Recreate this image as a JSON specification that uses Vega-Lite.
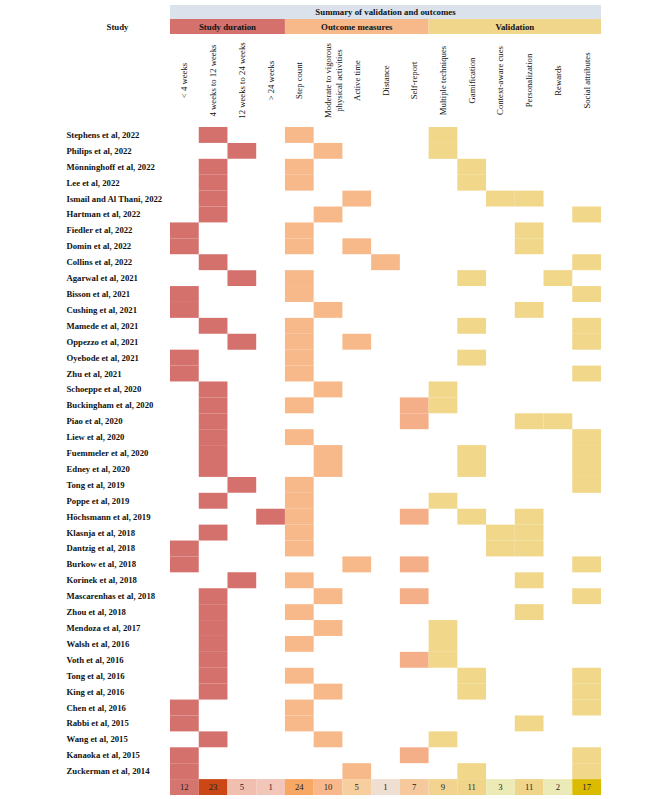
{
  "$schema": "https://vega.github.io/schema/vega-lite/v6.json",
  "padding": {"left": 66, "top": 5, "right": 5, "bottom": 0},
  "spacing": 0,
  "bounds": "flush",
  "resolve": {"scale": {"color": "independent", "fill": "independent", "x": "independent", "y": "independent"}},
  "config": {"view": {"stroke": null}},
  "datasets": {
    "summary": [{"t": "Summary of validation and outcomes", "s": 0, "e": 15}],
    "groups": [
      {"g": "Study duration", "s": 0, "e": 4, "h": "Study"},
      {"g": "Outcome measures", "s": 4, "e": 9, "h": "Study"},
      {"g": "Validation", "s": 9, "e": 15, "h": "Study"}
    ],
    "cols": [
      {"col": "< 4 weeks", "label": "< 4 weeks"},
      {"col": "4 weeks to 12 weeks", "label": "4 weeks to 12 weeks"},
      {"col": "12 weeks to 24 weeks", "label": "12 weeks to 24 weeks"},
      {"col": "> 24 weeks", "label": "> 24 weeks"},
      {"col": "Step count", "label": "Step count"},
      {"col": "Moderate to vigorous physical activities", "label": "Moderate to vigorous\nphysical activities"},
      {"col": "Active time", "label": "Active time"},
      {"col": "Distance", "label": "Distance"},
      {"col": "Self-report", "label": "Self-report"},
      {"col": "Multiple techniques", "label": "Multiple techniques"},
      {"col": "Gamification", "label": "Gamification"},
      {"col": "Context-aware cues", "label": "Context-aware cues"},
      {"col": "Personalization", "label": "Personalization"},
      {"col": "Rewards", "label": "Rewards"},
      {"col": "Social attributes", "label": "Social attributes"}
    ],
    "totals": [
      {"col": "< 4 weeks", "n": 12},
      {"col": "4 weeks to 12 weeks", "n": 23},
      {"col": "12 weeks to 24 weeks", "n": 5},
      {"col": "> 24 weeks", "n": 1},
      {"col": "Step count", "n": 24},
      {"col": "Moderate to vigorous physical activities", "n": 10},
      {"col": "Active time", "n": 5},
      {"col": "Distance", "n": 1},
      {"col": "Self-report", "n": 7},
      {"col": "Multiple techniques", "n": 9},
      {"col": "Gamification", "n": 11},
      {"col": "Context-aware cues", "n": 3},
      {"col": "Personalization", "n": 11},
      {"col": "Rewards", "n": 2},
      {"col": "Social attributes", "n": 17}
    ],
    "cells": [
      {"study": "Stephens et al, 2022", "col": "4 weeks to 12 weeks"},
      {"study": "Stephens et al, 2022", "col": "Step count"},
      {"study": "Stephens et al, 2022", "col": "Multiple techniques"},
      {"study": "Philips et al, 2022", "col": "12 weeks to 24 weeks"},
      {"study": "Philips et al, 2022", "col": "Moderate to vigorous physical activities"},
      {"study": "Philips et al, 2022", "col": "Multiple techniques"},
      {"study": "Mönninghoff et al, 2022", "col": "4 weeks to 12 weeks"},
      {"study": "Mönninghoff et al, 2022", "col": "Step count"},
      {"study": "Mönninghoff et al, 2022", "col": "Gamification"},
      {"study": "Lee et al, 2022", "col": "4 weeks to 12 weeks"},
      {"study": "Lee et al, 2022", "col": "Step count"},
      {"study": "Lee et al, 2022", "col": "Gamification"},
      {"study": "Ismail and Al Thani, 2022", "col": "4 weeks to 12 weeks"},
      {"study": "Ismail and Al Thani, 2022", "col": "Active time"},
      {"study": "Ismail and Al Thani, 2022", "col": "Context-aware cues"},
      {"study": "Ismail and Al Thani, 2022", "col": "Personalization"},
      {"study": "Hartman et al, 2022", "col": "4 weeks to 12 weeks"},
      {"study": "Hartman et al, 2022", "col": "Moderate to vigorous physical activities"},
      {"study": "Hartman et al, 2022", "col": "Social attributes"},
      {"study": "Fiedler et al, 2022", "col": "< 4 weeks"},
      {"study": "Fiedler et al, 2022", "col": "Step count"},
      {"study": "Fiedler et al, 2022", "col": "Personalization"},
      {"study": "Domin et al, 2022", "col": "< 4 weeks"},
      {"study": "Domin et al, 2022", "col": "Step count"},
      {"study": "Domin et al, 2022", "col": "Active time"},
      {"study": "Domin et al, 2022", "col": "Personalization"},
      {"study": "Collins et al, 2022", "col": "4 weeks to 12 weeks"},
      {"study": "Collins et al, 2022", "col": "Distance"},
      {"study": "Collins et al, 2022", "col": "Social attributes"},
      {"study": "Agarwal et al, 2021", "col": "12 weeks to 24 weeks"},
      {"study": "Agarwal et al, 2021", "col": "Step count"},
      {"study": "Agarwal et al, 2021", "col": "Gamification"},
      {"study": "Agarwal et al, 2021", "col": "Rewards"},
      {"study": "Bisson et al, 2021", "col": "< 4 weeks"},
      {"study": "Bisson et al, 2021", "col": "Step count"},
      {"study": "Bisson et al, 2021", "col": "Social attributes"},
      {"study": "Cushing et al, 2021", "col": "< 4 weeks"},
      {"study": "Cushing et al, 2021", "col": "Moderate to vigorous physical activities"},
      {"study": "Cushing et al, 2021", "col": "Personalization"},
      {"study": "Mamede et al, 2021", "col": "4 weeks to 12 weeks"},
      {"study": "Mamede et al, 2021", "col": "Step count"},
      {"study": "Mamede et al, 2021", "col": "Gamification"},
      {"study": "Mamede et al, 2021", "col": "Social attributes"},
      {"study": "Oppezzo et al, 2021", "col": "12 weeks to 24 weeks"},
      {"study": "Oppezzo et al, 2021", "col": "Step count"},
      {"study": "Oppezzo et al, 2021", "col": "Active time"},
      {"study": "Oppezzo et al, 2021", "col": "Social attributes"},
      {"study": "Oyebode et al, 2021", "col": "< 4 weeks"},
      {"study": "Oyebode et al, 2021", "col": "Step count"},
      {"study": "Oyebode et al, 2021", "col": "Gamification"},
      {"study": "Zhu et al, 2021", "col": "< 4 weeks"},
      {"study": "Zhu et al, 2021", "col": "Step count"},
      {"study": "Zhu et al, 2021", "col": "Social attributes"},
      {"study": "Schoeppe et al, 2020", "col": "4 weeks to 12 weeks"},
      {"study": "Schoeppe et al, 2020", "col": "Moderate to vigorous physical activities"},
      {"study": "Schoeppe et al, 2020", "col": "Multiple techniques"},
      {"study": "Buckingham et al, 2020", "col": "4 weeks to 12 weeks"},
      {"study": "Buckingham et al, 2020", "col": "Step count"},
      {"study": "Buckingham et al, 2020", "col": "Self-report"},
      {"study": "Buckingham et al, 2020", "col": "Multiple techniques"},
      {"study": "Piao et al, 2020", "col": "4 weeks to 12 weeks"},
      {"study": "Piao et al, 2020", "col": "Self-report"},
      {"study": "Piao et al, 2020", "col": "Personalization"},
      {"study": "Piao et al, 2020", "col": "Rewards"},
      {"study": "Liew et al, 2020", "col": "4 weeks to 12 weeks"},
      {"study": "Liew et al, 2020", "col": "Step count"},
      {"study": "Liew et al, 2020", "col": "Social attributes"},
      {"study": "Fuemmeler et al, 2020", "col": "4 weeks to 12 weeks"},
      {"study": "Fuemmeler et al, 2020", "col": "Moderate to vigorous physical activities"},
      {"study": "Fuemmeler et al, 2020", "col": "Gamification"},
      {"study": "Fuemmeler et al, 2020", "col": "Social attributes"},
      {"study": "Edney et al, 2020", "col": "4 weeks to 12 weeks"},
      {"study": "Edney et al, 2020", "col": "Moderate to vigorous physical activities"},
      {"study": "Edney et al, 2020", "col": "Gamification"},
      {"study": "Edney et al, 2020", "col": "Social attributes"},
      {"study": "Tong et al, 2019", "col": "12 weeks to 24 weeks"},
      {"study": "Tong et al, 2019", "col": "Step count"},
      {"study": "Tong et al, 2019", "col": "Social attributes"},
      {"study": "Poppe et al, 2019", "col": "4 weeks to 12 weeks"},
      {"study": "Poppe et al, 2019", "col": "Step count"},
      {"study": "Poppe et al, 2019", "col": "Multiple techniques"},
      {"study": "Höchsmann et al, 2019", "col": "> 24 weeks"},
      {"study": "Höchsmann et al, 2019", "col": "Step count"},
      {"study": "Höchsmann et al, 2019", "col": "Self-report"},
      {"study": "Höchsmann et al, 2019", "col": "Gamification"},
      {"study": "Höchsmann et al, 2019", "col": "Personalization"},
      {"study": "Klasnja et al, 2018", "col": "4 weeks to 12 weeks"},
      {"study": "Klasnja et al, 2018", "col": "Step count"},
      {"study": "Klasnja et al, 2018", "col": "Context-aware cues"},
      {"study": "Klasnja et al, 2018", "col": "Personalization"},
      {"study": "Dantzig et al, 2018", "col": "< 4 weeks"},
      {"study": "Dantzig et al, 2018", "col": "Step count"},
      {"study": "Dantzig et al, 2018", "col": "Context-aware cues"},
      {"study": "Dantzig et al, 2018", "col": "Personalization"},
      {"study": "Burkow et al, 2018", "col": "< 4 weeks"},
      {"study": "Burkow et al, 2018", "col": "Active time"},
      {"study": "Burkow et al, 2018", "col": "Self-report"},
      {"study": "Burkow et al, 2018", "col": "Social attributes"},
      {"study": "Korinek et al, 2018", "col": "12 weeks to 24 weeks"},
      {"study": "Korinek et al, 2018", "col": "Step count"},
      {"study": "Korinek et al, 2018", "col": "Personalization"},
      {"study": "Mascarenhas et al, 2018", "col": "4 weeks to 12 weeks"},
      {"study": "Mascarenhas et al, 2018", "col": "Moderate to vigorous physical activities"},
      {"study": "Mascarenhas et al, 2018", "col": "Self-report"},
      {"study": "Mascarenhas et al, 2018", "col": "Social attributes"},
      {"study": "Zhou et al, 2018", "col": "4 weeks to 12 weeks"},
      {"study": "Zhou et al, 2018", "col": "Step count"},
      {"study": "Zhou et al, 2018", "col": "Personalization"},
      {"study": "Mendoza et al, 2017", "col": "4 weeks to 12 weeks"},
      {"study": "Mendoza et al, 2017", "col": "Moderate to vigorous physical activities"},
      {"study": "Mendoza et al, 2017", "col": "Multiple techniques"},
      {"study": "Walsh et al, 2016", "col": "4 weeks to 12 weeks"},
      {"study": "Walsh et al, 2016", "col": "Step count"},
      {"study": "Walsh et al, 2016", "col": "Multiple techniques"},
      {"study": "Voth et al, 2016", "col": "4 weeks to 12 weeks"},
      {"study": "Voth et al, 2016", "col": "Self-report"},
      {"study": "Voth et al, 2016", "col": "Multiple techniques"},
      {"study": "Tong et al, 2016", "col": "4 weeks to 12 weeks"},
      {"study": "Tong et al, 2016", "col": "Step count"},
      {"study": "Tong et al, 2016", "col": "Gamification"},
      {"study": "Tong et al, 2016", "col": "Social attributes"},
      {"study": "King et al, 2016", "col": "4 weeks to 12 weeks"},
      {"study": "King et al, 2016", "col": "Moderate to vigorous physical activities"},
      {"study": "King et al, 2016", "col": "Gamification"},
      {"study": "King et al, 2016", "col": "Social attributes"},
      {"study": "Chen et al, 2016", "col": "< 4 weeks"},
      {"study": "Chen et al, 2016", "col": "Step count"},
      {"study": "Chen et al, 2016", "col": "Social attributes"},
      {"study": "Rabbi et al, 2015", "col": "< 4 weeks"},
      {"study": "Rabbi et al, 2015", "col": "Step count"},
      {"study": "Rabbi et al, 2015", "col": "Personalization"},
      {"study": "Wang et al, 2015", "col": "4 weeks to 12 weeks"},
      {"study": "Wang et al, 2015", "col": "Moderate to vigorous physical activities"},
      {"study": "Wang et al, 2015", "col": "Multiple techniques"},
      {"study": "Kanaoka et al, 2015", "col": "< 4 weeks"},
      {"study": "Kanaoka et al, 2015", "col": "Self-report"},
      {"study": "Kanaoka et al, 2015", "col": "Social attributes"},
      {"study": "Zuckerman et al, 2014", "col": "< 4 weeks"},
      {"study": "Zuckerman et al, 2014", "col": "Active time"},
      {"study": "Zuckerman et al, 2014", "col": "Gamification"},
      {"study": "Zuckerman et al, 2014", "col": "Social attributes"}
    ]
  },
  "vconcat": [
    {
      "width": 431,
      "height": 14,
      "data": {"name": "summary"},
      "transform": [{"calculate": "(datum.s + datum.e) / 2", "as": "mid"}],
      "layer": [
        {
          "mark": {"type": "rect", "color": "#dbe2ec"},
          "encoding": {
            "x": {"field": "s", "type": "quantitative", "scale": {"domain": [0, 15], "nice": false, "zero": false}, "axis": null},
            "x2": {"field": "e"}
          }
        },
        {
          "mark": {"type": "text", "font": "Liberation Serif", "fontWeight": "bold", "fontSize": 8.8, "color": "#111", "baseline": "middle"},
          "encoding": {
            "x": {"field": "mid", "type": "quantitative"},
            "text": {"field": "t"}
          }
        }
      ]
    },
    {
      "width": 431,
      "height": 15,
      "data": {"name": "groups"},
      "transform": [{"calculate": "(datum.s + datum.e) / 2", "as": "mid"}],
      "encoding": {
        "y": {"field": "h", "type": "nominal", "scale": {"paddingInner": 0, "paddingOuter": 0},
          "axis": {"title": null, "domain": false, "ticks": false, "tickSize": 0, "labelAlign": "center", "labelPadding": 53, "labelFont": "Liberation Serif", "labelFontWeight": "bold", "labelFontSize": 8.8, "labelColor": "#111"}}
      },
      "layer": [
        {
          "mark": {"type": "rect"},
          "encoding": {
            "x": {"field": "s", "type": "quantitative", "scale": {"domain": [0, 15], "nice": false, "zero": false}, "axis": null},
            "x2": {"field": "e"},
            "color": {"field": "g", "type": "nominal", "scale": {"domain": ["Study duration", "Outcome measures", "Validation"], "range": ["#d4716c", "#f8b98a", "#f0d68b"]}, "legend": null}
          }
        },
        {
          "mark": {"type": "text", "font": "Liberation Serif", "fontWeight": "bold", "fontSize": 8.8, "color": "#111", "baseline": "middle"},
          "encoding": {
            "x": {"field": "mid", "type": "quantitative"},
            "text": {"field": "g"}
          }
        }
      ]
    },
    {
      "width": 431,
      "height": 93,
      "data": {"name": "cols"},
      "mark": {"type": "text", "angle": 270, "align": "center", "baseline": "middle", "lineBreak": "\n", "lineHeight": 10.5, "font": "Liberation Serif", "fontSize": 8.7, "color": "#111"},
      "encoding": {
        "x": {"field": "col", "type": "nominal", "sort": null, "scale": {"domain": ["< 4 weeks", "4 weeks to 12 weeks", "12 weeks to 24 weeks", "> 24 weeks", "Step count", "Moderate to vigorous physical activities", "Active time", "Distance", "Self-report", "Multiple techniques", "Gamification", "Context-aware cues", "Personalization", "Rewards", "Social attributes"], "paddingInner": 0, "paddingOuter": 0}, "axis": null},
        "y": {"datum": "lab", "type": "nominal", "axis": null},
        "text": {"field": "label"}
      }
    },
    {
      "width": 431,
      "height": 668,
      "encoding": {
        "x": {"field": "col", "type": "nominal", "scale": {"domain": ["< 4 weeks", "4 weeks to 12 weeks", "12 weeks to 24 weeks", "> 24 weeks", "Step count", "Moderate to vigorous physical activities", "Active time", "Distance", "Self-report", "Multiple techniques", "Gamification", "Context-aware cues", "Personalization", "Rewards", "Social attributes"], "paddingInner": 0, "paddingOuter": 0}, "axis": null}
      },
      "layer": [
        {
          "data": {"name": "cells"},
          "mark": {"type": "rect"},
          "encoding": {
            "y": {"field": "study", "type": "nominal",
              "scale": {"domain": ["Stephens et al, 2022", "Philips et al, 2022", "Mönninghoff et al, 2022", "Lee et al, 2022", "Ismail and Al Thani, 2022", "Hartman et al, 2022", "Fiedler et al, 2022", "Domin et al, 2022", "Collins et al, 2022", "Agarwal et al, 2021", "Bisson et al, 2021", "Cushing et al, 2021", "Mamede et al, 2021", "Oppezzo et al, 2021", "Oyebode et al, 2021", "Zhu et al, 2021", "Schoeppe et al, 2020", "Buckingham et al, 2020", "Piao et al, 2020", "Liew et al, 2020", "Fuemmeler et al, 2020", "Edney et al, 2020", "Tong et al, 2019", "Poppe et al, 2019", "Höchsmann et al, 2019", "Klasnja et al, 2018", "Dantzig et al, 2018", "Burkow et al, 2018", "Korinek et al, 2018", "Mascarenhas et al, 2018", "Zhou et al, 2018", "Mendoza et al, 2017", "Walsh et al, 2016", "Voth et al, 2016", "Tong et al, 2016", "King et al, 2016", "Chen et al, 2016", "Rabbi et al, 2015", "Wang et al, 2015", "Kanaoka et al, 2015", "Zuckerman et al, 2014", "Total"], "paddingInner": 0, "paddingOuter": 0},
              "axis": {"title": null, "domain": false, "ticks": false, "tickSize": 0, "labelAlign": "left", "labelBaseline": "middle", "labelPadding": 104, "labelFont": "Liberation Serif", "labelFontWeight": "bold", "labelFontSize": 8.7, "labelColor": "#111", "labelLimit": 200, "labelExpr": "datum.value == 'Total' ? '' : datum.label"}},
            "color": {"field": "col", "type": "nominal", "scale": {"domain": ["< 4 weeks", "4 weeks to 12 weeks", "12 weeks to 24 weeks", "> 24 weeks", "Step count", "Moderate to vigorous physical activities", "Active time", "Distance", "Self-report", "Multiple techniques", "Gamification", "Context-aware cues", "Personalization", "Rewards", "Social attributes"], "range": ["#d4716c", "#d4716c", "#d4716c", "#d4716c", "#f8b98a", "#f8b98a", "#f8b98a", "#f8b98a", "#f5af88", "#f0d78a", "#f0d78a", "#f0d78a", "#f0d78a", "#f0d78a", "#f0d78a"]}, "legend": null}
          }
        },
        {
          "data": {"name": "totals"},
          "mark": {"type": "rect"},
          "encoding": {
            "y": {"datum": "Total", "type": "nominal"},
            "fill": {"field": "col", "type": "nominal", "scale": {"domain": ["< 4 weeks", "4 weeks to 12 weeks", "12 weeks to 24 weeks", "> 24 weeks", "Step count", "Moderate to vigorous physical activities", "Active time", "Distance", "Self-report", "Multiple techniques", "Gamification", "Context-aware cues", "Personalization", "Rewards", "Social attributes"], "range": ["#d6746f", "#cb4715", "#f1bfb0", "#f2c6b8", "#f9a765", "#f8b88b", "#f7cf9f", "#efdfd2", "#f5c99b", "#f2d38f", "#f0d48a", "#ecebb7", "#f0d48a", "#ecebb7", "#dbbb00"]}, "legend": null}
          }
        },
        {
          "data": {"name": "totals"},
          "mark": {"type": "text", "font": "Liberation Serif", "fontSize": 8.7, "color": "#222", "baseline": "middle"},
          "encoding": {
            "y": {"datum": "Total", "type": "nominal"},
            "text": {"field": "n", "type": "quantitative"}
          }
        }
      ]
    }
  ]
}
